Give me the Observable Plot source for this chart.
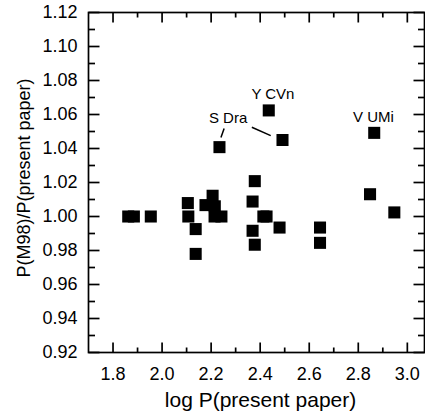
<!DOCTYPE html>
<html>
<head>
<meta charset="utf-8">
<script src="https://cdn.jsdelivr.net/npm/d3@7"></script>
<script src="https://cdn.jsdelivr.net/npm/@observablehq/plot@0.6"></script>
<style>
  html, body { margin: 0; padding: 0; background: #fff; }
  #chart svg { display: block; }
</style>
</head>
<body>
<div id="chart"></div>
<script>
// Data
const logP = [1.862, 1.885, 1.954, 2.105, 2.107, 2.137, 2.137, 2.177, 2.206, 2.215, 2.214, 2.242, 2.234,
              2.378, 2.369, 2.369, 2.378, 2.413, 2.426, 2.479, 2.435, 2.491, 2.644, 2.644, 2.848, 2.865, 2.947];
const ratio = [1.000, 1.000, 1.000, 1.0079, 1.000, 0.9926, 0.978, 1.0067, 1.0122, 1.0060, 1.000, 1.000, 1.0408,
               1.0208, 1.0088, 0.9916, 0.9834, 1.000, 1.000, 0.9935, 1.0624, 1.045, 0.9935, 0.9845, 1.0131, 1.0492, 1.0024];

const starNames = ["Y CVn", "S Dra", "V UMi"];
const labelX = [2.452, 2.269, 2.862];
const labelY = [1.0722, 1.0576, 1.0584];

const leaderX1 = [2.253, 2.366];
const leaderY1 = [1.0518, 1.0525];
const leaderX2 = [2.240, 2.443];
const leaderY2 = [1.0465, 1.0476];

const xMajor = [1.8, 2.0, 2.2, 2.4, 2.6, 2.8, 3.0];
const xMinor = [1.9, 2.1, 2.3, 2.5, 2.7, 2.9];
const yMajor = [0.92, 0.94, 0.96, 0.98, 1.00, 1.02, 1.04, 1.06, 1.08, 1.10, 1.12];
const yMinor = [0.93, 0.95, 0.97, 0.99, 1.01, 1.03, 1.05, 1.07, 1.09, 1.11];

const xTitle = "log P(present paper)";
const yTitle = "P(M98)/P(present paper)";

const points = logP.map((x, i) => ({x, y: ratio[i]}));
const labels = starNames.map((name, i) => ({name, x: labelX[i], y: labelY[i]}));
const leaders = leaderX1.map((x1, i) => ({x1, y1: leaderY1[i], x2: leaderX2[i], y2: leaderY2[i]}));

// inward tick symbols
const tickSym = (dx, dy) => ({draw(ctx) { ctx.moveTo(0, 0); ctx.lineTo(dx, dy); }});
const tw = 1.7;

const font = "'Liberation Sans', Arial, Helvetica, sans-serif";

const chart = Plot.plot({
  width: 425,
  height: 419,
  marginLeft: 88,
  marginRight: 1,
  marginTop: 12,
  marginBottom: 67,
  style: {fontFamily: font, background: "#fff", color: "#000"},
  x: {domain: [1.7, 3.07]},
  y: {domain: [0.92, 1.12]},
  marks: [
    Plot.frame({stroke: "#000", strokeWidth: tw}),
    // bottom ticks
    Plot.dot(xMajor, {x: d => d, frameAnchor: "bottom", symbol: tickSym(0, -10), fill: "none", stroke: "#000", strokeWidth: tw}),
    Plot.dot(xMinor, {x: d => d, frameAnchor: "bottom", symbol: tickSym(0, -5), fill: "none", stroke: "#000", strokeWidth: tw}),
    // top ticks
    Plot.dot(xMajor, {x: d => d, frameAnchor: "top", symbol: tickSym(0, 10), fill: "none", stroke: "#000", strokeWidth: tw}),
    Plot.dot(xMinor, {x: d => d, frameAnchor: "top", symbol: tickSym(0, 5), fill: "none", stroke: "#000", strokeWidth: tw}),
    // left ticks
    Plot.dot(yMajor, {y: d => d, frameAnchor: "left", symbol: tickSym(11, 0), fill: "none", stroke: "#000", strokeWidth: tw}),
    Plot.dot(yMinor, {y: d => d, frameAnchor: "left", symbol: tickSym(6.5, 0), fill: "none", stroke: "#000", strokeWidth: tw}),
    // right ticks
    Plot.dot(yMajor, {y: d => d, frameAnchor: "right", symbol: tickSym(-11, 0), fill: "none", stroke: "#000", strokeWidth: tw}),
    Plot.dot(yMinor, {y: d => d, frameAnchor: "right", symbol: tickSym(-6.5, 0), fill: "none", stroke: "#000", strokeWidth: tw}),
    // tick labels
    Plot.axisX({ticks: xMajor, tickSize: 0, tickPadding: 15, tickFormat: d3.format(".1f"), fontSize: 18, label: null, fill: "#000"}),
    Plot.axisY({ticks: yMajor, tickSize: 0, tickPadding: 11, tickFormat: d3.format(".2f"), fontSize: 18, label: null, fill: "#000"}),
    // axis titles
    Plot.text([xTitle], {text: d => d, frameAnchor: "bottom", dy: 48, dx: 4, textAnchor: "middle", lineAnchor: "middle", fontSize: 21, fill: "#000"}),
    Plot.text([yTitle], {text: d => d, frameAnchor: "left", dx: -64, dy: -4.5, rotate: -90, textAnchor: "middle", lineAnchor: "middle", fontSize: 18, fill: "#000"}),
    // data
    Plot.dot(points, {x: "x", y: "y", symbol: "square", r: 6.8, fill: "#000", stroke: "none"}),
    // annotations
    Plot.link(leaders, {x1: "x1", y1: "y1", x2: "x2", y2: "y2", stroke: "#000", strokeWidth: 1.5}),
    Plot.text(labels, {x: "x", y: "y", text: "name", fontSize: 15, textAnchor: "middle", lineAnchor: "middle", fill: "#000"})
  ]
});

document.getElementById("chart").appendChild(chart);
</script>
</body>
</html>
